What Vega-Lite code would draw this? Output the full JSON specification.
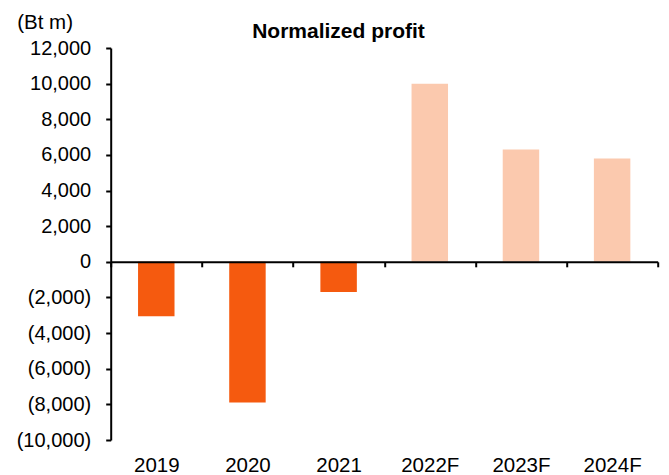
{
  "$schema": "https://vega.github.io/schema/vega-lite/v6.json",
  "autosize": {"type": "none"},
  "padding": {"left": 110.7, "top": 48, "right": 11.3, "bottom": 35},
  "width": 547,
  "height": 392,
  "background": "white",
  "title": {
    "text": "Normalized profit",
    "font": "Liberation Sans",
    "fontSize": 21,
    "fontWeight": "bold",
    "color": "black",
    "anchor": "middle",
    "frame": "group",
    "dx": -45.7,
    "dy": 55.8,
    "baseline": "alphabetic",
    "offset": 9
  },
  "data": {
    "values": [
      {"year": "2019", "profit": -3050, "kind": "Actual"},
      {"year": "2020", "profit": -7900, "kind": "Actual"},
      {"year": "2021", "profit": -1700, "kind": "Actual"},
      {"year": "2022F", "profit": 10000, "kind": "Forecast"},
      {"year": "2023F", "profit": 6300, "kind": "Forecast"},
      {"year": "2024F", "profit": 5800, "kind": "Forecast"}
    ]
  },
  "mark": {"type": "bar", "width": {"band": 0.4}},
  "encoding": {
    "x": {
      "field": "year",
      "type": "nominal",
      "sort": null,
      "scale": {"paddingInner": 0, "paddingOuter": 0},
      "axis": {
        "title": null,
        "offset": -178.2,
        "labelAngle": 0,
        "labelFont": "Liberation Sans",
        "labelFontSize": 20.5,
        "labelColor": "black",
        "labelBaseline": "alphabetic",
        "labelPadding": 205,
        "tickBand": "extent",
        "tickSize": 5,
        "tickWidth": 2,
        "tickColor": "black",
        "domainColor": "black",
        "domainWidth": 2,
        "grid": false,
        "zindex": 1
      }
    },
    "y": {
      "field": "profit",
      "type": "quantitative",
      "scale": {"domain": [-10000, 12000], "nice": false, "zero": true},
      "axis": {
        "title": "(Bt m)",
        "titleFont": "Liberation Sans",
        "titleFontSize": 20.5,
        "titleFontWeight": "normal",
        "titleColor": "black",
        "titleAngle": 0,
        "titleAlign": "left",
        "titleBaseline": "alphabetic",
        "titleX": -94,
        "titleY": -19.7,
        "values": [-10000, -8000, -6000, -4000, -2000, 0, 2000, 4000, 6000, 8000, 10000, 12000],
        "labelExpr": "datum.value < 0 ? '(' + format(-datum.value, ',') + ')' : format(datum.value, ',') + '\u00a0'",
        "labelFont": "Liberation Sans",
        "labelFontSize": 20,
        "labelColor": "black",
        "labelPadding": 15,
        "tickSize": 5,
        "tickWidth": 2,
        "tickColor": "black",
        "domainColor": "black",
        "domainWidth": 2,
        "grid": false,
        "zindex": 1
      }
    },
    "color": {
      "field": "kind",
      "type": "nominal",
      "scale": {"domain": ["Actual", "Forecast"], "range": ["#F55A0F", "#FBC9AE"]},
      "legend": null
    }
  },
  "config": {"view": {"stroke": null}}
}
